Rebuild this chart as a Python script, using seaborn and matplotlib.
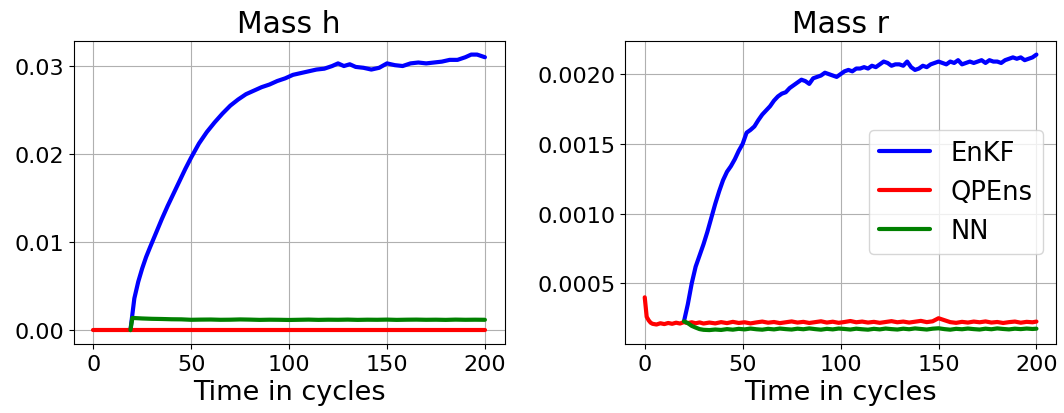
import numpy as np
import pandas as pd
import matplotlib
matplotlib.use("Agg")
import matplotlib.pyplot as plt
from matplotlib.ticker import MultipleLocator
import seaborn as sns

# ---- Mass h ----
cycles_enkf_h = [19, 21, 23, 25, 27, 29, 32, 35, 38, 41, 44, 47, 50, 54, 58, 62, 66, 70,
                 74, 78, 82, 86, 90, 94, 98, 102, 106, 110, 114, 118, 122, 125, 128, 131,
                 134, 138, 142, 146, 150, 154, 158, 162, 166, 170, 174, 178, 182, 186,
                 190, 193, 196, 200]
enkf_h = [0.0000, 0.0036, 0.0055, 0.0070, 0.0083, 0.0094, 0.0110, 0.0126, 0.0141, 0.0155,
          0.0169, 0.0183, 0.0196, 0.0212, 0.0225, 0.0236, 0.0246, 0.0255, 0.0262, 0.0268,
          0.0272, 0.0276, 0.0279, 0.0283, 0.0286, 0.0290, 0.0292, 0.0294, 0.0296, 0.0297,
          0.0300, 0.0303, 0.0300, 0.0302, 0.0299, 0.0298, 0.0296, 0.0298, 0.0303, 0.0301,
          0.0300, 0.0303, 0.0304, 0.0303, 0.0304, 0.0305, 0.0307, 0.0307, 0.0310, 0.0313,
          0.0313, 0.0310]

cycles_qpens_h = [0, 50, 100, 150, 200]
qpens_h = [0.0, 0.0, 0.0, 0.0, 0.0]

cycles_nn_h = [19, 20, 25, 30, 35, 40, 45, 50, 55, 60, 65, 70, 75, 80, 85, 90, 95, 100,
               105, 110, 115, 120, 125, 130, 135, 140, 145, 150, 155, 160, 165, 170, 175,
               180, 185, 190, 195, 200]
nn_h = [0.00000, 0.00138, 0.00132, 0.00128, 0.00126, 0.00123, 0.00122, 0.00117, 0.00119,
        0.00120, 0.00117, 0.00118, 0.00121, 0.00119, 0.00116, 0.00118, 0.00117, 0.00115,
        0.00117, 0.00119, 0.00116, 0.00118, 0.00117, 0.00119, 0.00116, 0.00118, 0.00117,
        0.00119, 0.00116, 0.00118, 0.00119, 0.00117, 0.00118, 0.00116, 0.00119, 0.00117,
        0.00118, 0.00117]

# ---- Mass r ----
cycles_enkf_r = [20, 22, 24, 26, 28, 30, 32, 34, 36, 38, 40, 42, 44, 46, 48, 50, 52, 54,
                 56, 58, 60, 62, 64, 66, 68, 70, 72, 74, 76, 78, 80, 82, 84, 86, 88, 90,
                 92, 94, 96, 98, 100, 102, 104, 106, 108, 110, 112, 114, 116, 118, 120,
                 122, 124, 126, 128, 130, 132, 134, 136, 138, 140, 142, 144, 146, 148,
                 150, 152, 154, 156, 158, 160, 162, 164, 166, 168, 170, 172, 174, 176,
                 178, 180, 182, 184, 186, 188, 190, 192, 194, 196, 198, 200]
enkf_r = [0.000225, 0.000350, 0.000500, 0.000620, 0.000700, 0.000780, 0.000870, 0.000970,
          0.001070, 0.001160, 0.001240, 0.001300, 0.001340, 0.001390, 0.001450, 0.001500,
          0.001580, 0.001600, 0.001625, 0.001670, 0.001710, 0.001740, 0.001770, 0.001810,
          0.001840, 0.001860, 0.001870, 0.001900, 0.001920, 0.001940, 0.001960, 0.001950,
          0.001930, 0.001970, 0.001980, 0.001990, 0.002010, 0.002000, 0.001990, 0.001980,
          0.002000, 0.002020, 0.002030, 0.002020, 0.002040, 0.002040, 0.002050, 0.002040,
          0.002060, 0.002050, 0.002070, 0.002090, 0.002080, 0.002060, 0.002070, 0.002070,
          0.002060, 0.002090, 0.002050, 0.002030, 0.002040, 0.002060, 0.002050, 0.002070,
          0.002080, 0.002090, 0.002080, 0.002070, 0.002090, 0.002080, 0.002100, 0.002070,
          0.002080, 0.002090, 0.002080, 0.002090, 0.002100, 0.002080, 0.002100, 0.002090,
          0.002090, 0.002080, 0.002100, 0.002110, 0.002120, 0.002110, 0.002120, 0.002100,
          0.002110, 0.002120, 0.002140]

cycles_qpens_r = [0, 1, 2, 3, 4, 6, 8, 10, 12, 14, 16, 18, 20, 22, 24, 26, 28, 30, 33, 36,
                  39, 42, 45, 48, 51, 54, 57, 60, 63, 66, 69, 72, 75, 78, 81, 84, 87, 90,
                  93, 96, 99, 102, 105, 108, 111, 114, 117, 120, 123, 126, 129, 132, 135,
                  138, 141, 144, 147, 150, 153, 156, 159, 162, 165, 168, 171, 174, 177,
                  180, 183, 186, 189, 192, 195, 198, 200]
qpens_r = [0.000400, 0.000260, 0.000235, 0.000218, 0.000210, 0.000205, 0.000214, 0.000208,
           0.000216, 0.000210, 0.000218, 0.000212, 0.000222, 0.000215, 0.000221, 0.000214,
           0.000220, 0.000212, 0.000219, 0.000213, 0.000222, 0.000215, 0.000224, 0.000216,
           0.000221, 0.000213, 0.000220, 0.000226, 0.000218, 0.000223, 0.000215, 0.000221,
           0.000227, 0.000219, 0.000224, 0.000216, 0.000222, 0.000228, 0.000219, 0.000225,
           0.000217, 0.000223, 0.000230, 0.000221, 0.000226, 0.000219, 0.000224, 0.000217,
           0.000223, 0.000229, 0.000221, 0.000226, 0.000219, 0.000225, 0.000231, 0.000222,
           0.000228, 0.000250, 0.000236, 0.000222, 0.000217, 0.000224, 0.000219, 0.000226,
           0.000221, 0.000227, 0.000219, 0.000223, 0.000216, 0.000222, 0.000226, 0.000218,
           0.000224, 0.000221, 0.000226]

cycles_nn_r = [20, 22, 24, 26, 28, 30, 33, 36, 39, 42, 45, 48, 51, 54, 57, 60, 63, 66, 69,
               72, 75, 78, 81, 84, 87, 90, 93, 96, 99, 102, 105, 108, 111, 114, 117, 120,
               123, 126, 129, 132, 135, 138, 141, 144, 147, 150, 153, 156, 159, 162, 165,
               168, 171, 174, 177, 180, 183, 186, 189, 192, 195, 198, 200]
nn_r = [0.000228, 0.000215, 0.000195, 0.000183, 0.000172, 0.000167, 0.000165, 0.000169,
        0.000166, 0.000172, 0.000168, 0.000174, 0.000170, 0.000176, 0.000171, 0.000168,
        0.000174, 0.000170, 0.000176, 0.000172, 0.000169, 0.000175, 0.000171, 0.000177,
        0.000172, 0.000168, 0.000174, 0.000170, 0.000176, 0.000173, 0.000169, 0.000175,
        0.000171, 0.000168, 0.000174, 0.000170, 0.000176, 0.000172, 0.000169, 0.000175,
        0.000171, 0.000177, 0.000173, 0.000169, 0.000175, 0.000178, 0.000172, 0.000168,
        0.000174, 0.000171, 0.000176, 0.000172, 0.000169, 0.000175, 0.000171, 0.000177,
        0.000173, 0.000170, 0.000175, 0.000172, 0.000176, 0.000173, 0.000175]

method_colors = {"EnKF": "blue", "QPEns": "red", "NN": "green"}

sns.set_theme(style="ticks", rc={
    "axes.grid": True,
    "grid.color": "#b0b0b0",
    "grid.linewidth": 0.8,
    "axes.edgecolor": "black",
    "axes.linewidth": 0.8,
    "xtick.color": "black",
    "ytick.color": "black",
    "text.color": "black",
    "axes.labelcolor": "black",
})
plt.rcParams["font.family"] = ["DejaVu Sans"]

fig, axes = plt.subplots(1, 2, figsize=(10.64, 4.14), dpi=100)
fig.subplots_adjust(left=0.0692, right=0.9925, bottom=0.167, top=0.899, wspace=0.28)

panels = [
    ("Mass h", axes[0], [(cycles_enkf_h, enkf_h, "EnKF"),
                         (cycles_qpens_h, qpens_h, "QPEns"),
                         (cycles_nn_h, nn_h, "NN")]),
    ("Mass r", axes[1], [(cycles_enkf_r, enkf_r, "EnKF"),
                         (cycles_qpens_r, qpens_r, "QPEns"),
                         (cycles_nn_r, nn_r, "NN")]),
]

for title, ax, series in panels:
    for t, v, name in series:
        df = pd.DataFrame({"cycle": t, "value": v})
        sns.lineplot(data=df, x="cycle", y="value", ax=ax, color=method_colors[name],
                     linewidth=3, label=name, legend=False)
    ax.set_title(title, fontsize=21.5)
    ax.set_xlabel("Time in cycles", fontsize=19.5)
    ax.set_ylabel("")
    ax.set_xticks([0, 50, 100, 150, 200])
    ax.tick_params(labelsize=16, length=3.5, width=0.8, direction="out")
    for s in ax.spines.values():
        s.set_visible(True)
        s.set_color("black")

axes[0].yaxis.set_major_locator(MultipleLocator(0.01))

axes[1].legend(loc="center right", fontsize=18.5, frameon=True, fancybox=True,
               framealpha=0.8, edgecolor="#cccccc")

fig.savefig("out.png", dpi=100)
